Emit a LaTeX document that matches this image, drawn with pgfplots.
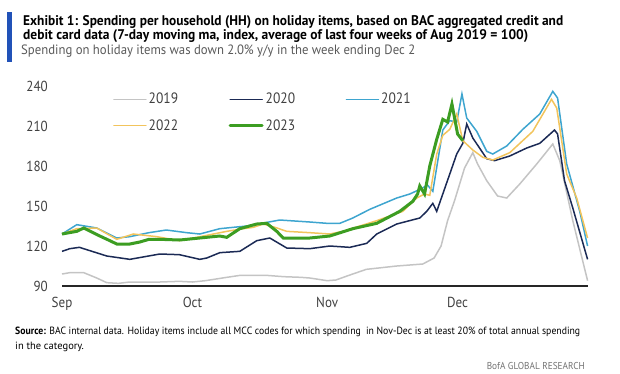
\documentclass[border=0pt]{standalone}
\usepackage{graphicx}
\usepackage{pgfplots}
\pgfplotsset{compat=1.18}
\usepackage{fontspec}
\setmainfont{PT Sans}
\newfontfamily\narrowfont{PT Sans}[FakeStretch=0.9]
\definecolor{c2019}{HTML}{C4C4C4}
\definecolor{c2020}{HTML}{1B2A55}
\definecolor{c2021}{HTML}{3EA5CF}
\definecolor{c2022}{HTML}{F2C45C}
\definecolor{c2023}{HTML}{3C9D22}
\definecolor{tickgray}{HTML}{404040}
\definecolor{barblue}{HTML}{2152B8}
\begin{document}
\begin{tikzpicture}[x=1pt,y=1pt]
\path (0,0) rectangle (620,-373);
\fill[barblue] (7,-12) rectangle (12,-62);
\node[anchor=base west, inner sep=0pt] at (23,-25) {\resizebox{540pt}{\height}{\fontsize{14}{14}\selectfont\bfseries Exhibit 1: Spending per household (HH) on holiday items, based on BAC aggregated credit and}};
\node[anchor=base west, inner sep=0pt] at (23,-39.5) {\resizebox{505pt}{\height}{\fontsize{14}{14}\selectfont\bfseries debit card data (7-day\ moving ma, index, average of last four weeks of Aug 2019 = 100)}};
\node[anchor=base west, inner sep=0pt, text=black!65] at (21,-54) {\resizebox{394pt}{\height}{\fontsize{13.5}{13.5}\selectfont Spending on holiday items was down 2.0\% y/y in the week ending Dec 2}};
\begin{axis}[
  at={(62pt,-286pt)}, anchor=south west,
  scale only axis, width=526pt, height=200pt,
  xmin=0, xmax=121, ymin=90, ymax=240,
  axis x line=bottom, axis y line=left,
  y axis line style={draw=none},
  x axis line style={-, line width=1.1pt, color=black!85},
  major tick length=0pt,
  xtick={0,30,61,91}, xticklabels={Sep,Oct,Nov,Dec},
  ytick={90,120,150,180,210,240},
  /pgf/number format/assume math mode=true,
  tick label style={font=\narrowfont\fontsize{14.5}{14.5}\selectfont, text=tickgray},
  yticklabel style={anchor=east, inner sep=0pt, xshift=-14pt},
  xticklabel style={anchor=base, inner sep=0pt, yshift=-21pt},
  legend columns=3,
  legend style={at={(0.097,0.975)}, anchor=north west, draw=none, fill=none,
    font=\narrowfont\fontsize{15}{15}\selectfont, text=tickgray, row sep=10pt, inner sep=0pt},
  legend cell align=left,
  legend image code/.code={\draw[#1, line cap=round] (0pt,0pt) -- (32pt,0pt);},
  clip=false,
]
\addplot[c2019, line width=1.5pt] coordinates {
(0,99) (1.8,100) (5,100) (8,96) (10.3,92.5) (13,92) (15.6,93) (22.5,93) (27,93.5) (30,93) (33,94) (37.9,96.5) (41,98) (47,98) (51,97) (55,96.5) (57,96) (61,94) (63,94.5) (66,98) (70,102.5) (77,105) (83,106.5) (85.6,111) (87.2,120) (88.7,139) (90.3,154) (92.6,178.5) (94.5,190) (95.6,181.5) (97.7,169) (100.2,157.5) (102.3,156) (105.3,166.5) (109.2,181.5) (112.9,196.5) (114.5,184) (117.5,139) (120.9,94)
};
\addlegendentry{\makebox[78pt][l]{2019}}
\addplot[c2020, line width=1.5pt] coordinates {
(0,116) (1.8,118) (4,119) (10.3,112.5) (15.6,110) (22.5,114) (27,113.5) (31.7,110) (33.3,111) (36.3,115) (40.9,116) (44.8,124) (47.8,126) (51.7,118.5) (57,118) (61.6,120) (66.2,119) (70.1,122) (72.4,129) (77,136.5) (82.3,141) (83.9,146) (85.3,152) (86.2,146) (89.2,174) (90.8,189) (92.2,197) (93.1,211.5) (94.5,201) (97.7,185.5) (99.5,184) (103,187.5) (106.9,193.5) (109.9,197) (113.3,207) (114,204) (115.6,169) (117.5,148.5) (120.9,110)
};
\addlegendentry{\makebox[78pt][l]{2020}}
\addplot[c2021, line width=1.5pt] coordinates {
(0,129) (3.4,136) (8,133.5) (12.6,126) (15.6,127) (20,130) (24,132) (28.7,130) (31.7,129) (36.3,133) (42.5,135) (50.1,139.5) (57,138) (61,137) (63.9,137) (66.9,141) (70.8,147.5) (77,156) (80,159) (83,163.5) (84,166) (85.3,161) (86.5,185) (87.6,207) (89.2,214) (90.8,213) (92,234) (93.1,216) (95.4,206) (97.7,191) (99.1,189) (102.3,195) (106,207.5) (109.9,219) (112.9,236) (114,231) (116.1,181.5) (119.1,146) (120.9,120)
};
\addlegendentry{\makebox[78pt][l]{2021}}
\addplot[c2022, line width=1.5pt] coordinates {
(0,129) (3.4,133) (8,133.5) (12.6,125) (16.4,129) (21.8,127) (27,124) (30.2,126) (33.3,128) (37.9,131) (41.7,133) (44,134) (46.3,136.5) (49,134) (51.7,131) (57,130) (61.6,129) (64.6,131) (72.4,139) (78.4,146) (81.6,156) (83.4,159) (84.6,158) (86.2,189) (87.6,203) (89.2,207.5) (90.8,219) (92.2,199) (94.5,192) (96.8,186.5) (99.1,184.5) (103,190) (108.3,206) (112.6,230) (113.8,223.5) (116.1,174) (118.4,156) (120.9,126)
};
\addlegendentry{\makebox[78pt][l]{2022}}
\addplot[c2023, line width=3pt] coordinates {
(0,129) (3.4,131) (5,133.5) (8.7,127.5) (11,124) (12.6,121.5) (15.6,121.5) (17.9,123) (20,125) (22.5,125) (27.1,124.5) (31.7,126) (36.3,127.5) (37.9,126.5) (40.9,133) (44.8,136.5) (47.1,137) (49.4,131) (50.9,126) (57,126) (61.6,127.5) (66.9,133) (72.4,137) (77.7,146) (80.7,153.5) (81.8,159) (82.3,165) (83.4,159) (84.6,180) (86.2,200) (87.6,215) (88.7,213) (89.7,226.5) (91,204) (92.2,199)
};
\addlegendentry{\makebox[78pt][l]{2023}}
\end{axis}
\node[anchor=base west, inner sep=0pt] at (15,-334) {\resizebox{565pt}{\height}{\fontsize{10.5}{10.5}\selectfont\textbf{Source:} BAC internal data. Holiday items include all MCC codes for which spending\ \ in Nov-Dec is at least 20\% of total annual spending}};
\node[anchor=base west, inner sep=0pt] at (15,-349) {\fontsize{10.5}{10.5}\selectfont in the category.};
\node[anchor=base east, inner sep=0pt, text=black!55] at (585,-369) {\resizebox{98pt}{\height}{\fontsize{10}{10}\selectfont BofA GLOBAL RESEARCH}};
\end{tikzpicture}
\end{document}
